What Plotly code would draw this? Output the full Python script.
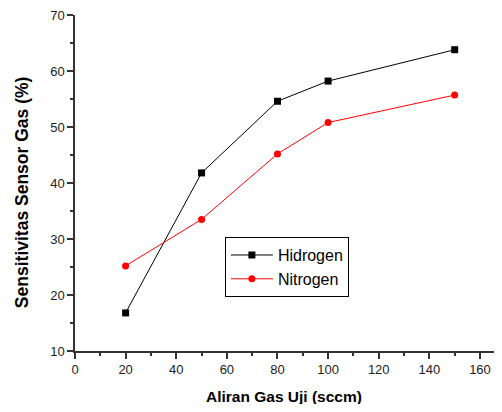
import plotly.graph_objects as go

aliran = [20, 50, 80, 100, 150]
hidrogen = [16.8, 41.8, 54.6, 58.2, 63.8]
nitrogen = [25.2, 33.5, 45.2, 50.8, 55.7]

FONT = "Liberation Sans, Arial"

fig = go.Figure()
fig.add_trace(go.Scatter(x=aliran, y=hidrogen, name="Hidrogen", mode="lines+markers",
                         line=dict(color="black", width=1),
                         marker=dict(symbol="square", size=7, color="black")))
fig.add_trace(go.Scatter(x=aliran, y=nitrogen, name="Nitrogen", mode="lines+markers",
                         line=dict(color="#ff0000", width=1),
                         marker=dict(symbol="circle", size=7, color="#ff0000")))

axis_common = dict(showline=True, linecolor="#333", linewidth=1.5, showgrid=False, zeroline=False,
                   ticks="outside", ticklen=6, tickwidth=1.5, tickcolor="#333", automargin=False,
                   ticklabeloverflow="allow",
                   tickfont=dict(family=FONT, size=13, color="#222"))
fig.update_layout(
    width=494, height=396,
    margin=dict(l=67, r=0, t=7, b=53),
    paper_bgcolor="white", plot_bgcolor="white",
    font=dict(family=FONT, color="black"),
    xaxis=dict(range=[0, 168.7], tickvals=[0, 20, 40, 60, 80, 100, 120, 140, 160],
               minor=dict(ticks="outside", ticklen=3, tickwidth=1.5, tickcolor="#333", dtick=10),
               **axis_common),
    yaxis=dict(range=[10, 70], tickvals=[10, 20, 30, 40, 50, 60, 70],
               minor=dict(ticks="outside", ticklen=3, tickwidth=1.5, tickcolor="#333", dtick=5),
               **axis_common),
    legend=dict(x=0.351, y=0.339, xanchor="left", yanchor="top",
                bordercolor="black", borderwidth=1, bgcolor="white",
                font=dict(family=FONT, size=16), itemwidth=42, tracegroupgap=2),
    showlegend=True,
    annotations=[
        dict(text="<b>Aliran Gas Uji (sccm)</b>", xref="paper", yref="paper",
             x=0.49, y=-0.135, xanchor="center", yanchor="middle", showarrow=False,
             font=dict(family=FONT, size=15.5, color="black")),
        dict(text="<b>Sensitivitas Sensor Gas (%)</b>", xref="paper", yref="paper",
             x=-0.124, y=0.47, xanchor="center", yanchor="middle", showarrow=False, textangle=-90,
             font=dict(family=FONT, size=17.5, color="black")),
    ],
)
fig.write_html("out.html")
